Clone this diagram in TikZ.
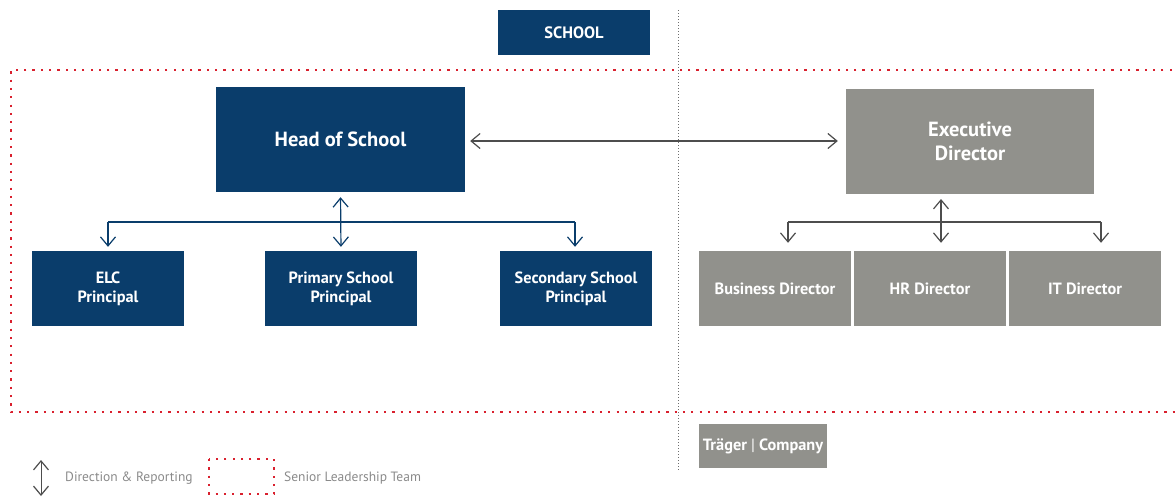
\documentclass[tikz,border=0pt]{standalone}
\usepackage{fontspec}
\setmainfont{PT Sans}
\usetikzlibrary{arrows.meta}
\definecolor{navy}{HTML}{0A3D6B}
\definecolor{stone}{HTML}{91918C}
\definecolor{dotred}{HTML}{D9202E}
\definecolor{arrowgray}{HTML}{4D4D4D}
\definecolor{legendgray}{HTML}{8A8A8A}
\definecolor{divgray}{HTML}{6E6E6E}
\tikzset{
  box/.style={inner sep=0pt, align=center, text=white, font=\bfseries\fontsize{16.3}{19}\selectfont},
  bluebox/.style={box, fill=navy},
  graybox/.style={box, fill=stone},
  bigtext/.style={font=\bfseries\fontsize{20.5}{24}\selectfont},
  chev/.tip={Straight Barb[length=9pt,width=15pt,line width=1.2pt]},
  blueline/.style={draw=navy, line width=1.2pt},
  grayline/.style={draw=arrowgray, line width=1.2pt},
  reddots/.style={draw=dotred, line width=2.2pt, dash pattern=on 2.2pt off 6.1pt},
  divider/.style={draw=divgray, line width=0.9pt, dash pattern=on 1pt off 2pt},
  legendtext/.style={text=legendgray, font=\fontsize{13.5}{15}\selectfont, anchor=west, inner sep=0pt}
}
\begin{document}
\begin{tikzpicture}[x=1pt,y=-1pt]
\useasboundingbox (0,0) rectangle (1176,499);
% divider
\coordinate (dtop) at (678,10);
\coordinate (dbot) at (678,470);
\draw[divider] (dtop) -- (dbot);
% senior leadership team frame
\coordinate (f1) at (1180,70);
\coordinate (f2) at (11,70);
\coordinate (f3) at (11,412);
\coordinate (f4) at (1180,412);
\draw[reddots] (f1) -- (f2) -- (f3) -- (f4);
% nodes
\node[bluebox, minimum width=152pt, minimum height=45pt, font=\bfseries\fontsize{16.5}{19}\selectfont] (school) at (574,32.5) {SCHOOL};
\node[bluebox, bigtext, minimum width=249pt, minimum height=105pt] (hos) at (340.5,139.5) {Head of School};
\node[graybox, bigtext, minimum width=248pt, minimum height=105pt] (exd) at (970,141) {Executive\\Director};
\node[bluebox, minimum width=152pt, minimum height=75pt] (elc) at (108,288.5) {ELC\\Principal};
\node[bluebox, minimum width=152pt, minimum height=75pt] (pri) at (341,288.5) {Primary School\\Principal};
\node[bluebox, minimum width=152pt, minimum height=75pt] (sec) at (576,288.5) {Secondary School\\Principal};
\node[graybox, minimum width=152pt, minimum height=75pt] (bus) at (775,288.5) {Business Director};
\node[graybox, minimum width=152pt, minimum height=75pt] (hr) at (930,288.5) {HR Director};
\node[graybox, minimum width=152pt, minimum height=75pt] (it) at (1085,288.5) {IT Director};
\node[graybox, minimum width=128pt, minimum height=44pt] (trager) at (763,446) {Träger {\mdseries|} Company};
% head of school <-> executive director
\draw[grayline, {chev}-{chev}, shorten <=5pt, shorten >=8pt] (hos.east |- 0,141) -- (exd.west |- 0,141);
% left tree
\coordinate (lb1) at (108,222);
\coordinate (lb3) at (575,222);
\draw[blueline, {chev}-{chev}, shorten <=5pt, shorten >=4pt] (hos.south) -- (pri.north);
\draw[blueline] (lb1) -- (lb3);
\draw[blueline, -{chev}, shorten >=4pt] (lb1) -- (elc.north -| lb1);
\draw[blueline, -{chev}, shorten >=4pt] (lb3) -- (sec.north -| lb3);
% right tree
\coordinate (rtop) at (941,193);
\coordinate (rb1) at (788,222);
\coordinate (rb3) at (1101,222);
\draw[grayline, {chev}-{chev}, shorten <=6pt, shorten >=8pt] (rtop) -- (hr.north -| rtop);
\draw[grayline] (rb1) -- (rb3);
\draw[grayline, -{chev}, shorten >=8pt] (rb1) -- (bus.north -| rb1);
\draw[grayline, -{chev}, shorten >=8pt] (rb3) -- (it.north -| rb3);
% legend
\coordinate (la1) at (41,460);
\coordinate (la2) at (41,496);
\draw[grayline, line width=1pt, {chev}-{chev}] (la1) -- (la2);
\node[legendtext] (ltext1) at (65,478) {Direction \& Reporting};
\coordinate (sq1) at (209,459);
\coordinate (sq2) at (274,494);
\draw[reddots] (sq1) rectangle (sq2);
\node[legendtext] (ltext2) at (284,478) {Senior Leadership Team};
\end{tikzpicture}
\end{document}
